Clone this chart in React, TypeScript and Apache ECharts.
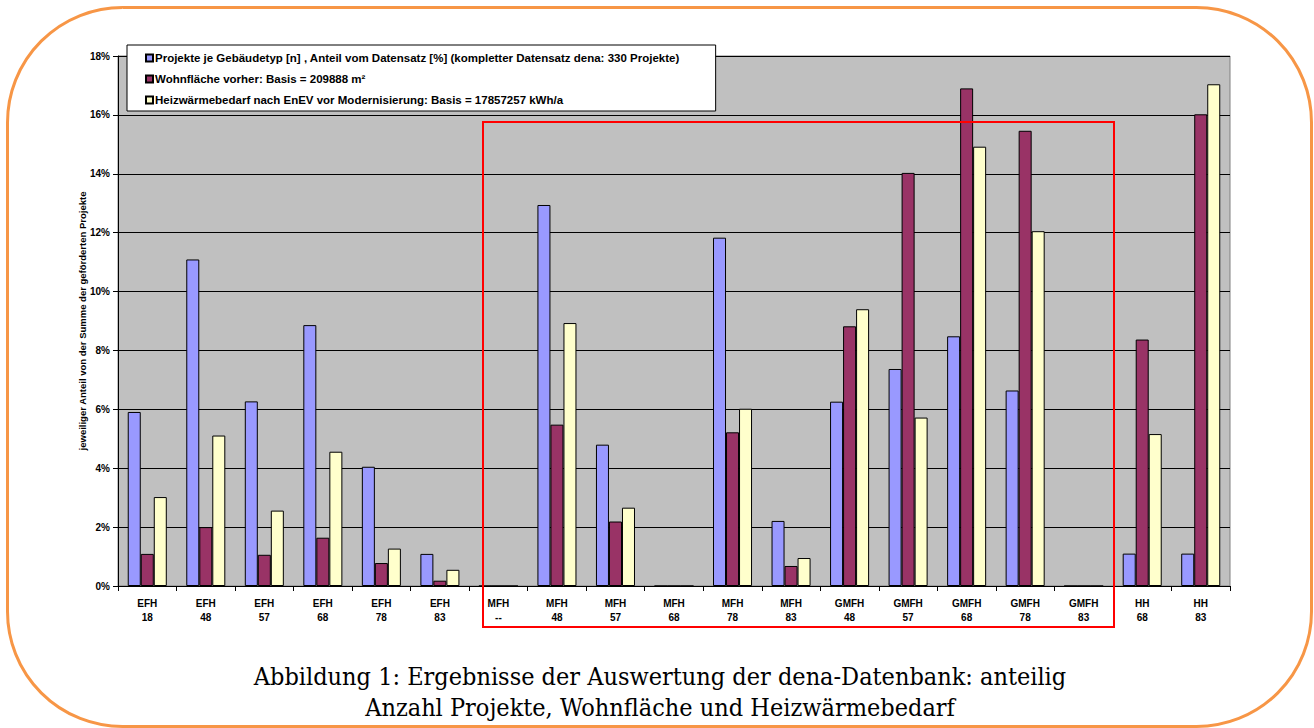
import React, { useEffect, useRef } from "react";
import * as echarts from "echarts";

const categories = [
  "EFH\n18", "EFH\n48", "EFH\n57", "EFH\n68", "EFH\n78", "EFH\n83",
  "MFH\n--", "MFH\n48", "MFH\n57", "MFH\n68", "MFH\n78", "MFH\n83",
  "GMFH\n48", "GMFH\n57", "GMFH\n68", "GMFH\n78", "GMFH\n83",
  "HH\n68", "HH\n83",
];

const seriesNames = [
  "Projekte je Gebäudetyp [n] , Anteil vom Datensatz [%] (kompletter Datensatz dena: 330 Projekte)",
  "Wohnfläche vorher: Basis = 209888 m²",
  "Heizwärmebedarf nach EnEV vor Modernisierung: Basis = 17857257 kWh/a",
];

const projekte = [5.91, 11.09, 6.27, 8.86, 4.05, 1.09, 0, 12.94, 4.8, 0, 11.83, 2.21, 6.26, 7.37, 8.48, 6.64, 0, 1.1, 1.1];
const wohnflaeche = [1.09, 2.0, 1.06, 1.64, 0.78, 0.18, 0, 5.48, 2.19, 0, 5.22, 0.68, 8.82, 14.03, 16.9, 15.46, 0, 8.37, 16.02];
const heizwaerme = [3.02, 5.11, 2.56, 4.56, 1.27, 0.55, 0, 8.93, 2.66, 0, 6.02, 0.95, 9.4, 5.72, 14.92, 12.05, 0, 5.16, 17.04];

const yTicks = { min: 0, max: 18, interval: 2 };

const captionLines = [
  "Abbildung 1: Ergebnisse der Auswertung der dena-Datenbank: anteilig",
  "Anzahl Projekte, Wohnfläche und Heizwärmebedarf",
];

const colors = ["#9999FF", "#993366", "#FFFFCC"];
const FONT = "'Liberation Sans', Arial, sans-serif";

export default function App() {
  const ref = useRef<HTMLDivElement>(null);
  useEffect(() => {
    if (!ref.current) return;
    const chart = echarts.init(ref.current, undefined, { renderer: "svg" });
    const values = [projekte, wohnflaeche, heizwaerme];
    chart.setOption({
      animation: false,
      textStyle: { fontFamily: FONT },
      grid: {
        left: 118,
        top: 56,
        width: 1112,
        height: 530,
        show: true,
        backgroundColor: "#C0C0C0",
        borderColor: "#808080",
        borderWidth: 1,
      },
      legend: {
        orient: "vertical",
        left: 127,
        top: 45,
        backgroundColor: "#FFFFFF",
        borderColor: "#000000",
        borderWidth: 1,
        padding: [7, 36, 5, 18],
        itemGap: 9,
        itemWidth: 7,
        itemHeight: 7,
        icon: "rect",
        textStyle: { fontFamily: FONT, fontSize: 11.5, fontWeight: "bold", color: "#000", padding: [0, 0, 0, -3] },
        data: seriesNames,
      },
      xAxis: {
        type: "category",
        data: categories,
        axisLine: { lineStyle: { color: "#000", width: 1 } },
        axisTick: { show: true, length: 5, lineStyle: { color: "#000" } },
        axisLabel: {
          fontFamily: FONT,
          fontSize: 10,
          fontWeight: "bold",
          color: "#000",
          lineHeight: 14,
          margin: 10,
          interval: 0,
        },
        z: 5,
      },
      yAxis: {
        type: "value",
        min: yTicks.min,
        max: yTicks.max,
        interval: yTicks.interval,
        name: "jeweiliger Anteil von der Summe der geförderten Projekte",
        nameLocation: "middle",
        nameGap: 31,
        nameMoveOverlap: false,
        nameTextStyle: { fontFamily: FONT, fontSize: 9.5, fontWeight: "bold", color: "#000" },
        axisLine: { show: true, lineStyle: { color: "#000", width: 1 } },
        axisTick: { show: true, length: 5, lineStyle: { color: "#000" } },
        axisLabel: {
          fontFamily: FONT,
          fontSize: 10,
          fontWeight: "bold",
          color: "#000",
          margin: 8,
          formatter: "{value}%",
        },
        splitLine: { show: true, lineStyle: { color: "#000", width: 1 } },
      },
      series: seriesNames.map((name, i) => ({
        name,
        type: "bar",
        data: values[i],
        barGap: "0%",
        barCategoryGap: "33.3%",
        itemStyle: { color: colors[i], borderColor: "#000", borderWidth: 1 },
      })),
      graphic: [
        {
          type: "rect",
          z: 100,
          shape: { x: 483, y: 122, width: 631, height: 505 },
          style: { fill: "none", stroke: "#FF0000", lineWidth: 2 },
        },
        {
          type: "rect",
          z: 100,
          shape: { x: 7.5, y: 7.5, width: 1304, height: 719, r: 115 },
          style: { fill: "none", stroke: "#F79646", lineWidth: 3 },
        },
        ...captionLines.map((t, i) => ({
          type: "text",
          z: 100,
          x: 660,
          y: 676 + i * 31,
          style: {
            text: t,
            fontFamily: "'DejaVu Serif Condensed', 'Liberation Serif', serif",
            fontSize: 25,
            fill: "#000",
            textAlign: "center",
            textVerticalAlign: "middle",
          },
        })),
      ],
    });
    return () => chart.dispose();
  }, []);
  return (
    <div
      ref={ref}
      style={{ position: "fixed", left: 0, top: 0, width: 1314, height: 728, background: "#fff" }}
    />
  );
}
